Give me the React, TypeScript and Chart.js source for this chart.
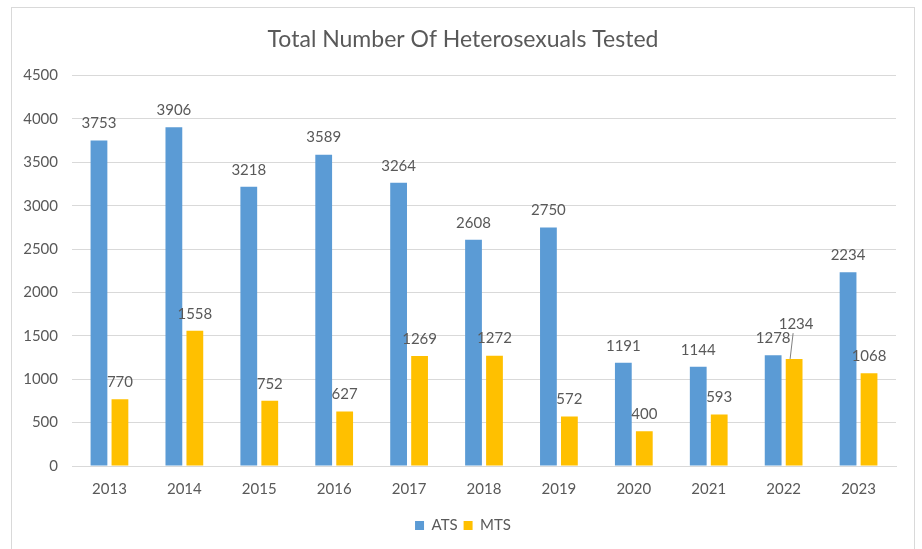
import React, { useEffect, useRef } from "react";
import { Chart, registerables } from "chart.js";

Chart.register(...registerables);

const years = ["2013", "2014", "2015", "2016", "2017", "2018", "2019", "2020", "2021", "2022", "2023"];
const atsValues = [3753, 3906, 3218, 3589, 3264, 2608, 2750, 1191, 1144, 1278, 2234];
const mtsValues = [770, 1558, 752, 627, 1269, 1272, 572, 400, 593, 1234, 1068];
const yTicks = [0, 500, 1000, 1500, 2000, 2500, 3000, 3500, 4000, 4500];

const FONT = "Lato, 'Open Sans', sans-serif";
const TEXT = "#595959";

const framePlugin = {
  id: "frame",
  beforeDraw(chart: any) {
    const ctx = chart.ctx;
    ctx.save();
    ctx.fillStyle = "#ffffff";
    ctx.fillRect(0, 0, chart.width, chart.height);
    ctx.strokeStyle = "#d9d9d9";
    ctx.lineWidth = 1;
    ctx.strokeRect(11.5, 7.5, 903, chart.height + 10);
    ctx.restore();
  },
};

const labelPlugin = {
  id: "barLabels",
  afterDatasetsDraw(chart: any) {
    const ctx = chart.ctx;
    ctx.save();
    ctx.font = `15px ${FONT}`;
    ctx.fillStyle = TEXT;
    ctx.textAlign = "center";
    ctx.textBaseline = "middle";
    const m0 = chart.getDatasetMeta(0);
    const m1 = chart.getDatasetMeta(1);
    const off = 17;
    m0.data.forEach((bar: any, i: number) => {
      ctx.fillText(String(atsValues[i]), bar.x, bar.y - off);
    });
    m1.data.forEach((bar: any, i: number) => {
      const text = String(mtsValues[i]);
      let y = bar.y - off;
      const a = m0.data[i];
      const ay = a.y - off;
      const w = ctx.measureText(text).width;
      const overlapX = Math.abs(bar.x - a.x) < w + 2;
      if (overlapX && Math.abs(y - ay) < 15) {
        const ny = ay - 14;
        ctx.strokeStyle = "#808080";
        ctx.lineWidth = 1;
        ctx.beginPath();
        ctx.moveTo(bar.x - 1, ny + 9);
        ctx.lineTo(bar.x - 4, bar.y);
        ctx.stroke();
        y = ny;
        ctx.fillText(text, bar.x + 2, y);
      } else {
        ctx.fillText(text, bar.x, y);
      }
    });
    ctx.restore();
  },
};

export default function App() {
  const ref = useRef<HTMLCanvasElement>(null);
  useEffect(() => {
    if (!ref.current) return;
    const chart = new Chart(ref.current, {
      type: "bar",
      data: {
        labels: years,
        datasets: [
          {
            label: "ATS",
            data: atsValues,
            backgroundColor: "#5B9BD5",
            categoryPercentage: 0.56,
            barPercentage: 0.8,
          },
          {
            label: "MTS",
            data: mtsValues,
            backgroundColor: "#FFC000",
            categoryPercentage: 0.56,
            barPercentage: 0.8,
          },
        ],
      },
      options: {
        animation: false,
        responsive: false,
        maintainAspectRatio: false,
        layout: { padding: { left: 11, right: 7, top: 8, bottom: 6 } },
        plugins: {
          title: {
            display: true,
            text: "Total Number Of Heterosexuals Tested",
            color: TEXT,
            font: { family: FONT, size: 23, weight: "normal" },
            padding: { top: 18, bottom: 22 },
          },
          legend: {
            position: "bottom",
            labels: {
              color: TEXT,
              font: { family: FONT, size: 15 },
              boxWidth: 9,
              boxHeight: 9,
              padding: 6,
            },
          },
          tooltip: { enabled: false },
        },
        scales: {
          x: {
            grid: { display: false, drawTicks: false },
            border: { color: "#d9d9d9" },
            ticks: { color: TEXT, font: { family: FONT, size: 15 }, padding: 14 },
          },
          y: {
            min: 0,
            max: 4500,
            afterFit(scale: any) {
              scale.width = 61;
            },
            afterBuildTicks(scale: any) {
              scale.ticks = yTicks.map((v) => ({ value: v }));
            },
            grid: { color: "#d9d9d9", drawTicks: false },
            border: { display: false },
            ticks: {
              color: TEXT,
              font: { family: FONT, size: 15 },
              padding: 14,
              callback: (v: any) => String(v),
            },
          },
          yRight: {
            position: "right",
            display: true,
            min: 0,
            max: 4500,
            afterFit(scale: any) {
              scale.width = 19;
            },
            grid: { display: false, drawTicks: false },
            border: { display: false },
            ticks: { display: false },
          },
        },
      } as any,
      plugins: [framePlugin, labelPlugin],
    });
    return () => chart.destroy();
  }, []);
  return (
    <div style={{ position: "fixed", left: 0, top: 0, width: 922, height: 549, overflow: "hidden", background: "#fff" }}>
      <canvas ref={ref} width={922} height={549} style={{ display: "block", width: 922, height: 549 }} />
    </div>
  );
}
